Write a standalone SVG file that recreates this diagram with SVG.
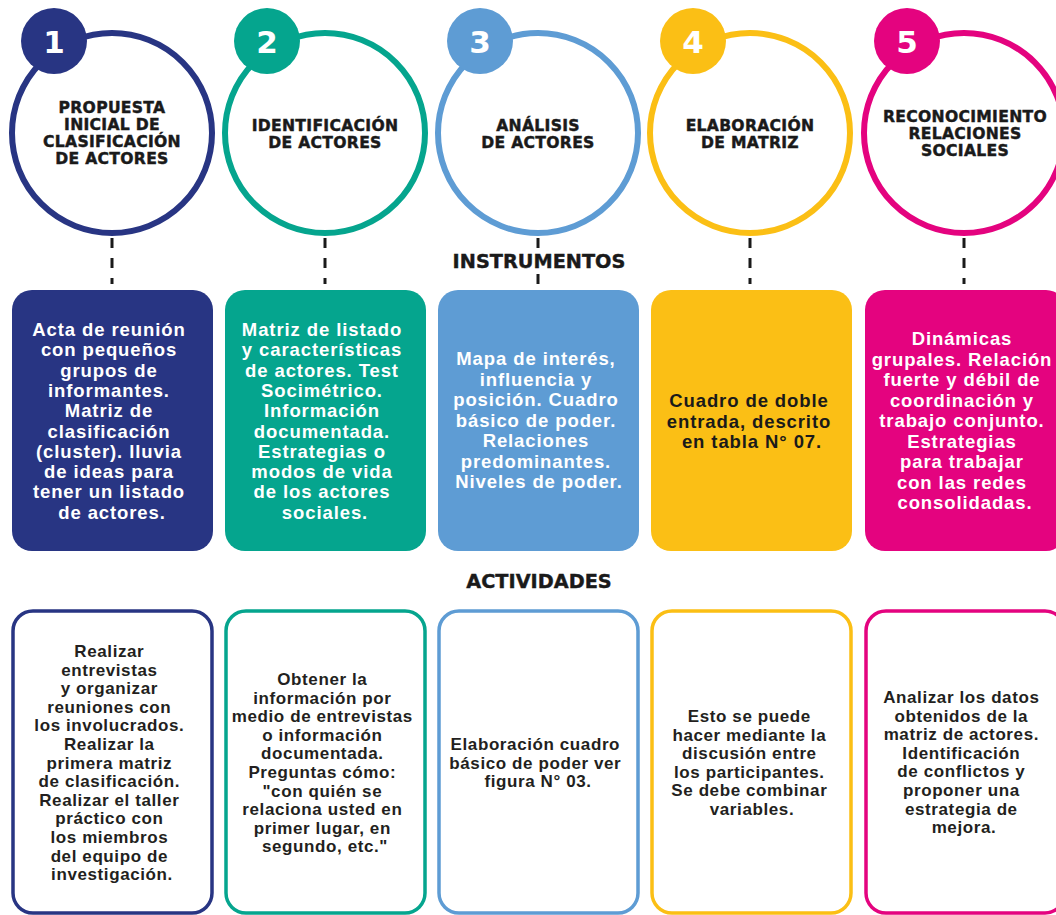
<svg xmlns="http://www.w3.org/2000/svg" width="1056" height="915" viewBox="0 0 1056 915">
<style>
.ring{fill:#fff;stroke-width:6}
.num{font-family:"DejaVu Sans","Liberation Sans",sans-serif;font-weight:bold;font-size:31px;fill:#fff;text-anchor:middle}
.title{font-family:"DejaVu Sans","Liberation Sans",sans-serif;font-weight:bold;font-size:15.6px;letter-spacing:0.3px;fill:#1a1a1a;stroke:#1a1a1a;stroke-width:0.45;text-anchor:middle}
.head{font-family:"DejaVu Sans","Liberation Sans",sans-serif;font-weight:bold;font-size:19.3px;fill:#1a1a1a;stroke:#1a1a1a;stroke-width:0.4;text-anchor:middle}
.mid{font-family:"Liberation Sans",Arial,sans-serif;font-weight:bold;font-size:18.5px;letter-spacing:0.9px;fill:#fff;text-anchor:middle}
.midd{font-family:"Liberation Sans",Arial,sans-serif;font-weight:bold;font-size:18.5px;letter-spacing:0.9px;fill:#1a1a1a;text-anchor:middle}
.bot{font-family:"Liberation Sans",Arial,sans-serif;font-weight:bold;font-size:17px;letter-spacing:0.6px;fill:#231f20;text-anchor:middle}
.dash{stroke:#1a1a1a;stroke-width:3;stroke-dasharray:10 10;fill:none}
.outl{fill:#fff;stroke-width:3.5}
</style>
<rect width="1056" height="915" fill="#fff"/>

<g id="connectors">
  <line class="dash" x1="112" y1="238" x2="112" y2="284"/>
  <line class="dash" x1="325" y1="238" x2="325" y2="284"/>
  <line class="dash" x1="538" y1="238" x2="538" y2="248"/>
  <line class="dash" x1="538" y1="274" x2="538" y2="284"/>
  <line class="dash" x1="750" y1="238" x2="750" y2="284"/>
  <line class="dash" x1="964" y1="238" x2="964" y2="284"/>
</g>

<g id="step1">
  <circle class="ring" cx="112" cy="133" r="100" stroke="#283583"/>
  <circle cx="54" cy="41" r="33" fill="#283583"/>
  <text class="num" x="54" y="53">1</text>
  <text class="title" x="112" y="113">PROPUESTA</text>
  <text class="title" x="112" y="130">INICIAL DE</text>
  <text class="title" x="112" y="147">CLASIFICACIÓN</text>
  <text class="title" x="112" y="164">DE ACTORES</text>
</g>
<g id="step2">
  <circle class="ring" cx="325" cy="133" r="100" stroke="#05a58e"/>
  <circle cx="267" cy="41" r="33" fill="#05a58e"/>
  <text class="num" x="267" y="53">2</text>
  <text class="title" x="325" y="131">IDENTIFICACIÓN</text>
  <text class="title" x="325" y="148">DE ACTORES</text>
</g>
<g id="step3">
  <circle class="ring" cx="538" cy="133" r="100" stroke="#5e9cd4"/>
  <circle cx="480" cy="41" r="33" fill="#5e9cd4"/>
  <text class="num" x="480" y="53">3</text>
  <text class="title" x="538" y="131">ANÁLISIS</text>
  <text class="title" x="538" y="148">DE ACTORES</text>
</g>
<g id="step4">
  <circle class="ring" cx="750" cy="133" r="100" stroke="#fbbf15"/>
  <circle cx="693" cy="41" r="33" fill="#fbbf15"/>
  <text class="num" x="693" y="53">4</text>
  <text class="title" x="750" y="131">ELABORACIÓN</text>
  <text class="title" x="750" y="148">DE MATRIZ</text>
</g>
<g id="step5">
  <circle class="ring" cx="964" cy="133" r="100" stroke="#e4037f"/>
  <circle cx="907" cy="41" r="33" fill="#e4037f"/>
  <text class="num" x="907" y="53">5</text>
  <text class="title" x="965" y="122">RECONOCIMIENTO</text>
  <text class="title" x="965" y="139">RELACIONES</text>
  <text class="title" x="965" y="156">SOCIALES</text>
</g>

<g id="label-instrumentos">
  <text class="head" x="539" y="268">INSTRUMENTOS</text>
</g>

<g id="inst1">
  <rect x="12" y="290" width="201" height="261" rx="20" fill="#283583"/>
  <text class="mid">
    <tspan x="112" y="336">Acta de reunión</tspan>
    <tspan x="112" y="356.3">con pequeños</tspan>
    <tspan x="112" y="376.6">grupos de</tspan>
    <tspan x="112" y="396.9">informantes.</tspan>
    <tspan x="112" y="417.2">Matriz de</tspan>
    <tspan x="112" y="437.5">clasificación</tspan>
    <tspan x="112" y="457.8">(cluster). lluvia</tspan>
    <tspan x="112" y="478.1">de ideas para</tspan>
    <tspan x="112" y="498.4">tener un listado</tspan>
    <tspan x="112" y="518.7">de actores.</tspan>
  </text>
</g>
<g id="inst2">
  <rect x="225" y="290" width="201" height="261" rx="20" fill="#05a58e"/>
  <text class="mid">
    <tspan x="325" y="336">Matriz de listado</tspan>
    <tspan x="325" y="356.3">y características</tspan>
    <tspan x="325" y="376.6">de actores. Test</tspan>
    <tspan x="325" y="396.9">Socimétrico.</tspan>
    <tspan x="325" y="417.2">Información</tspan>
    <tspan x="325" y="437.5">documentada.</tspan>
    <tspan x="325" y="457.8">Estrategias o</tspan>
    <tspan x="325" y="478.1">modos de vida</tspan>
    <tspan x="325" y="498.4">de los actores</tspan>
    <tspan x="325" y="518.7">sociales.</tspan>
  </text>
</g>
<g id="inst3">
  <rect x="438" y="290" width="201" height="261" rx="20" fill="#5e9cd4"/>
  <text class="mid">
    <tspan x="539" y="365">Mapa de interés,</tspan>
    <tspan x="539" y="385.5">influencia y</tspan>
    <tspan x="539" y="406">posición. Cuadro</tspan>
    <tspan x="539" y="426.5">básico de poder.</tspan>
    <tspan x="539" y="447">Relaciones</tspan>
    <tspan x="539" y="467.5">predominantes.</tspan>
    <tspan x="539" y="488">Niveles de poder.</tspan>
  </text>
</g>
<g id="inst4">
  <rect x="651" y="290" width="201" height="261" rx="20" fill="#fbbf15"/>
  <text class="midd">
    <tspan x="752" y="407">Cuadro de doble</tspan>
    <tspan x="752" y="427.5">entrada, descrito</tspan>
    <tspan x="752" y="448">en tabla N° 07.</tspan>
  </text>
</g>
<g id="inst5">
  <rect x="865" y="290" width="201" height="261" rx="20" fill="#e4037f"/>
  <text class="mid">
    <tspan x="965" y="345">Dinámicas</tspan>
    <tspan x="965" y="365.5">grupales. Relación</tspan>
    <tspan x="965" y="386">fuerte y débil de</tspan>
    <tspan x="965" y="406.5">coordinación y</tspan>
    <tspan x="965" y="427">trabajo conjunto.</tspan>
    <tspan x="965" y="447.5">Estrategias</tspan>
    <tspan x="965" y="468">para trabajar</tspan>
    <tspan x="965" y="488.5">con las redes</tspan>
    <tspan x="965" y="509">consolidadas.</tspan>
  </text>
</g>

<g id="label-actividades">
  <text class="head" x="539" y="588">ACTIVIDADES</text>
</g>

<g id="act1">
  <rect class="outl" x="13" y="611" width="199" height="302" rx="20" stroke="#283583"/>
  <text class="bot">
    <tspan x="112" y="657">Realizar</tspan>
    <tspan x="112" y="675.6">entrevistas</tspan>
    <tspan x="112" y="694.2">y organizar</tspan>
    <tspan x="112" y="712.8">reuniones con</tspan>
    <tspan x="112" y="731.4">los involucrados.</tspan>
    <tspan x="112" y="750">Realizar la</tspan>
    <tspan x="112" y="768.6">primera matriz</tspan>
    <tspan x="112" y="787.2">de clasificación.</tspan>
    <tspan x="112" y="805.8">Realizar el taller</tspan>
    <tspan x="112" y="824.4">práctico con</tspan>
    <tspan x="112" y="843">los miembros</tspan>
    <tspan x="112" y="861.6">del equipo de</tspan>
    <tspan x="112" y="880.2">investigación.</tspan>
  </text>
</g>
<g id="act2">
  <rect class="outl" x="226" y="611" width="199" height="302" rx="20" stroke="#05a58e"/>
  <text class="bot">
    <tspan x="325" y="685">Obtener la</tspan>
    <tspan x="325" y="703.6">información por</tspan>
    <tspan x="325" y="722.2">medio de entrevistas</tspan>
    <tspan x="325" y="740.8">o información</tspan>
    <tspan x="325" y="759.4">documentada.</tspan>
    <tspan x="325" y="778">Preguntas cómo:</tspan>
    <tspan x="325" y="796.6">"con quién se</tspan>
    <tspan x="325" y="815.2">relaciona usted en</tspan>
    <tspan x="325" y="833.8">primer lugar, en</tspan>
    <tspan x="325" y="852.4">segundo, etc."</tspan>
  </text>
</g>
<g id="act3">
  <rect class="outl" x="439" y="611" width="199" height="302" rx="20" stroke="#5e9cd4"/>
  <text class="bot">
    <tspan x="538" y="750">Elaboración cuadro</tspan>
    <tspan x="538" y="768.6">básico de poder ver</tspan>
    <tspan x="538" y="787.2">figura N° 03.</tspan>
  </text>
</g>
<g id="act4">
  <rect class="outl" x="652" y="611" width="199" height="302" rx="20" stroke="#fbbf15"/>
  <text class="bot">
    <tspan x="752" y="722">Esto se puede</tspan>
    <tspan x="752" y="740.6">hacer mediante la</tspan>
    <tspan x="752" y="759.2">discusión entre</tspan>
    <tspan x="752" y="777.8">los participantes.</tspan>
    <tspan x="752" y="796.4">Se debe combinar</tspan>
    <tspan x="752" y="815">variables.</tspan>
  </text>
</g>
<g id="act5">
  <rect class="outl" x="866" y="611" width="199" height="302" rx="20" stroke="#e4037f"/>
  <text class="bot">
    <tspan x="964" y="703">Analizar los datos</tspan>
    <tspan x="964" y="721.6">obtenidos de la</tspan>
    <tspan x="964" y="740.2">matriz de actores.</tspan>
    <tspan x="964" y="758.8">Identificación</tspan>
    <tspan x="964" y="777.4">de conflictos y</tspan>
    <tspan x="964" y="796">proponer una</tspan>
    <tspan x="964" y="814.6">estrategia de</tspan>
    <tspan x="964" y="833.2">mejora.</tspan>
  </text>
</g>
</svg>
